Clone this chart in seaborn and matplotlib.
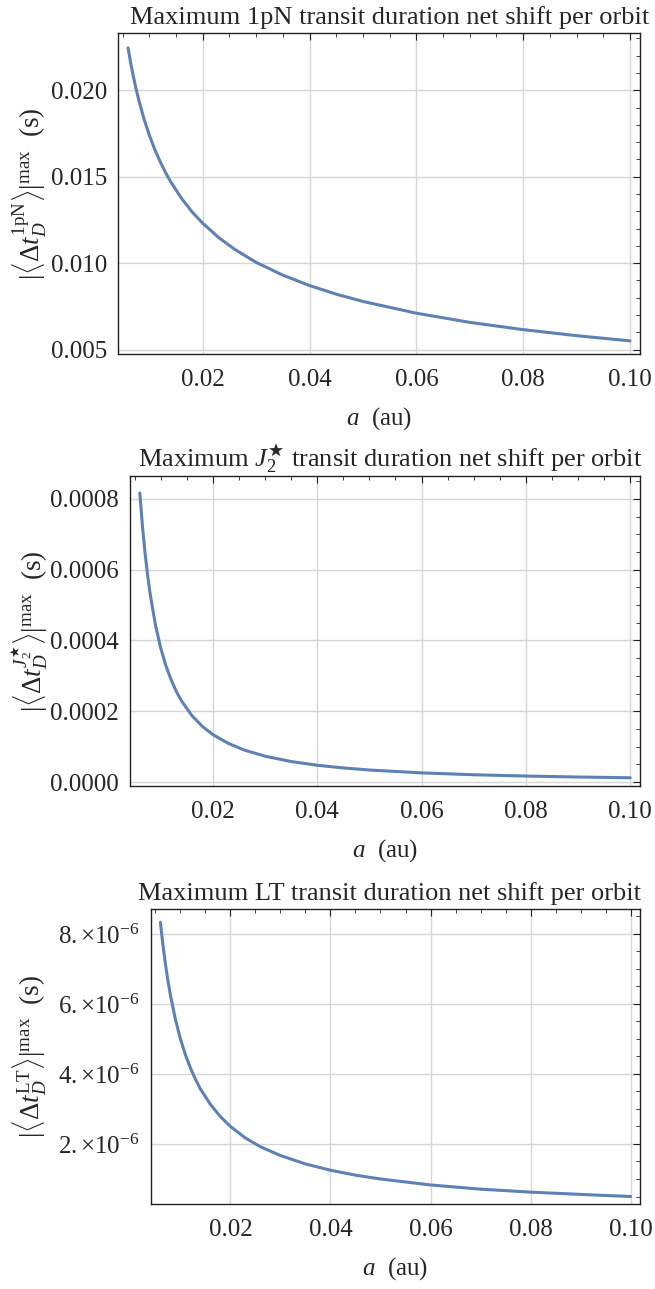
"""Maximum transit duration net shift per orbit vs semimajor axis (three panels)."""

import matplotlib

matplotlib.use("Agg")
import matplotlib.pyplot as plt
import seaborn as sns
from matplotlib.ticker import FuncFormatter, MultipleLocator

# semimajor axis (au)
a_au = [0.006, 0.0065, 0.007, 0.0075, 0.008, 0.009, 0.010, 0.011, 0.012, 0.013,
        0.014, 0.016, 0.018, 0.020, 0.023, 0.026, 0.030, 0.035, 0.040, 0.045,
        0.050, 0.060, 0.070, 0.080, 0.090, 0.100]

# |<Delta t_D>|^max (s)
shift_1pn = [0.02245, 0.02157, 0.02079, 0.02008, 0.01945, 0.01833, 0.01739, 0.01658,
             0.01588, 0.01525, 0.01470, 0.01375, 0.01296, 0.01230, 0.01147, 0.01079,
             0.01004, 0.00930, 0.00870, 0.00820, 0.00778, 0.00710, 0.00657, 0.00615,
             0.00580, 0.00550]
shift_j2 = [8.17e-4, 7.24e-4, 6.48e-4, 5.84e-4, 5.30e-4, 4.44e-4, 3.79e-4, 3.29e-4,
            2.89e-4, 2.56e-4, 2.29e-4, 1.875e-4, 1.57e-4, 1.34e-4, 1.09e-4, 9.05e-5,
            7.30e-5, 5.79e-5, 4.74e-5, 3.98e-5, 3.39e-5, 2.58e-5, 2.05e-5, 1.68e-5,
            1.41e-5, 1.20e-5]
shift_lt = [8.33e-6, 7.69e-6, 7.14e-6, 6.67e-6, 6.25e-6, 5.56e-6, 5.00e-6, 4.55e-6,
            4.17e-6, 3.85e-6, 3.57e-6, 3.13e-6, 2.78e-6, 2.50e-6, 2.17e-6, 1.92e-6,
            1.67e-6, 1.43e-6, 1.25e-6, 1.11e-6, 1.00e-6, 8.3e-7, 7.1e-7, 6.25e-7,
            5.6e-7, 5.0e-7]

titles = [
    "Maximum 1pN transit duration net shift per orbit",
    r"Maximum $J_2^{\bigstar}$ transit duration net shift per orbit",
    "Maximum LT transit duration net shift per orbit",
]
ylabels = [
    r"$|\langle\Delta t_D^{\mathrm{1pN}}\rangle|^{\mathrm{max}}$  (s)",
    r"$|\langle\Delta t_D^{J_2^{\bigstar}}\rangle|^{\mathrm{max}}$  (s)",
    r"$|\langle\Delta t_D^{\mathrm{LT}}\rangle|^{\mathrm{max}}$  (s)",
]

sns.set_style("white")
plt.rcParams["font.family"] = ["Liberation Serif", "DejaVu Serif"]
plt.rcParams["mathtext.fontset"] = "custom"
plt.rcParams["mathtext.rm"] = "Liberation Serif"
plt.rcParams["mathtext.it"] = "Liberation Serif:italic"
plt.rcParams["mathtext.bf"] = "Liberation Serif:bold"
plt.rcParams["font.size"] = 18

W, H = 655, 1289
LINE = "#5E81B5"
FRAME = "#222222"
GRID = "#d6d6d6"
FS = 18


def lt_fmt(v, _):
    if v <= 0:
        return ""
    return r"$%d.{\times}10^{-6}$" % round(v * 1e6)


# (left, top, right, bottom) in pixels, y limits, major/minor y steps, formatter
panels = [
    ((118, 33, 640, 354), (0.00474, 0.02331), 0.005, 0.001,
     FuncFormatter(lambda v, _: "%.3f" % v)),
    ((130, 476, 640, 786), (-1.13e-5, 8.65e-4), 2e-4, 5e-5,
     FuncFormatter(lambda v, _: "%.4f" % abs(v))),
    ((151, 909, 640, 1204), (2.86e-7, 8.71e-6), 2e-6, 5e-7, FuncFormatter(lt_fmt)),
]
series = [shift_1pn, shift_j2, shift_lt]

fig = plt.figure(figsize=(W / 100, H / 100), dpi=100)

for i, ((l, t, r, b), ylim, ymaj, ymin, fmt) in enumerate(panels):
    ax = fig.add_axes([l / W, 1 - b / H, (r - l) / W, (b - t) / H])
    sns.lineplot(x=a_au, y=series[i], ax=ax, color=LINE, linewidth=2.2)
    ax.set_xlim(0.00412, 0.10188)
    ax.set_ylim(*ylim)

    ax.xaxis.set_major_locator(MultipleLocator(0.02))
    ax.xaxis.set_minor_locator(MultipleLocator(0.005))
    ax.xaxis.set_major_formatter(FuncFormatter(lambda v, _: "%.2f" % v))
    ax.yaxis.set_major_locator(MultipleLocator(ymaj))
    ax.yaxis.set_minor_locator(MultipleLocator(ymin))
    ax.yaxis.set_major_formatter(fmt)

    ax.grid(True, which="major", color=GRID, linewidth=1.0)
    ax.set_axisbelow(True)
    for sp in ax.spines.values():
        sp.set_color(FRAME)
        sp.set_linewidth(1.0)
    ax.tick_params(which="both", direction="in", top=True, right=True,
                   color=FRAME, labelsize=FS)
    ax.tick_params(which="major", length=5, width=0.8, pad=8)
    ax.tick_params(which="minor", length=2.8, width=0.6)
    ax.tick_params(axis="x", which="major", pad=11)

    ax.set_xlabel(r"$a$  (au)", fontsize=FS, labelpad=10)
    ax.set_ylabel("")
    fig.text(30 / W, 1 - (t + b) / 2 / H, ylabels[i], rotation=90,
             ha="center", va="center", fontsize=FS + 1.5)
    fig.text(390 / W, 1 - (t - 9) / H, titles[i], ha="center", va="baseline",
             fontsize=FS + 1)

fig.savefig("out.png", dpi=100)
